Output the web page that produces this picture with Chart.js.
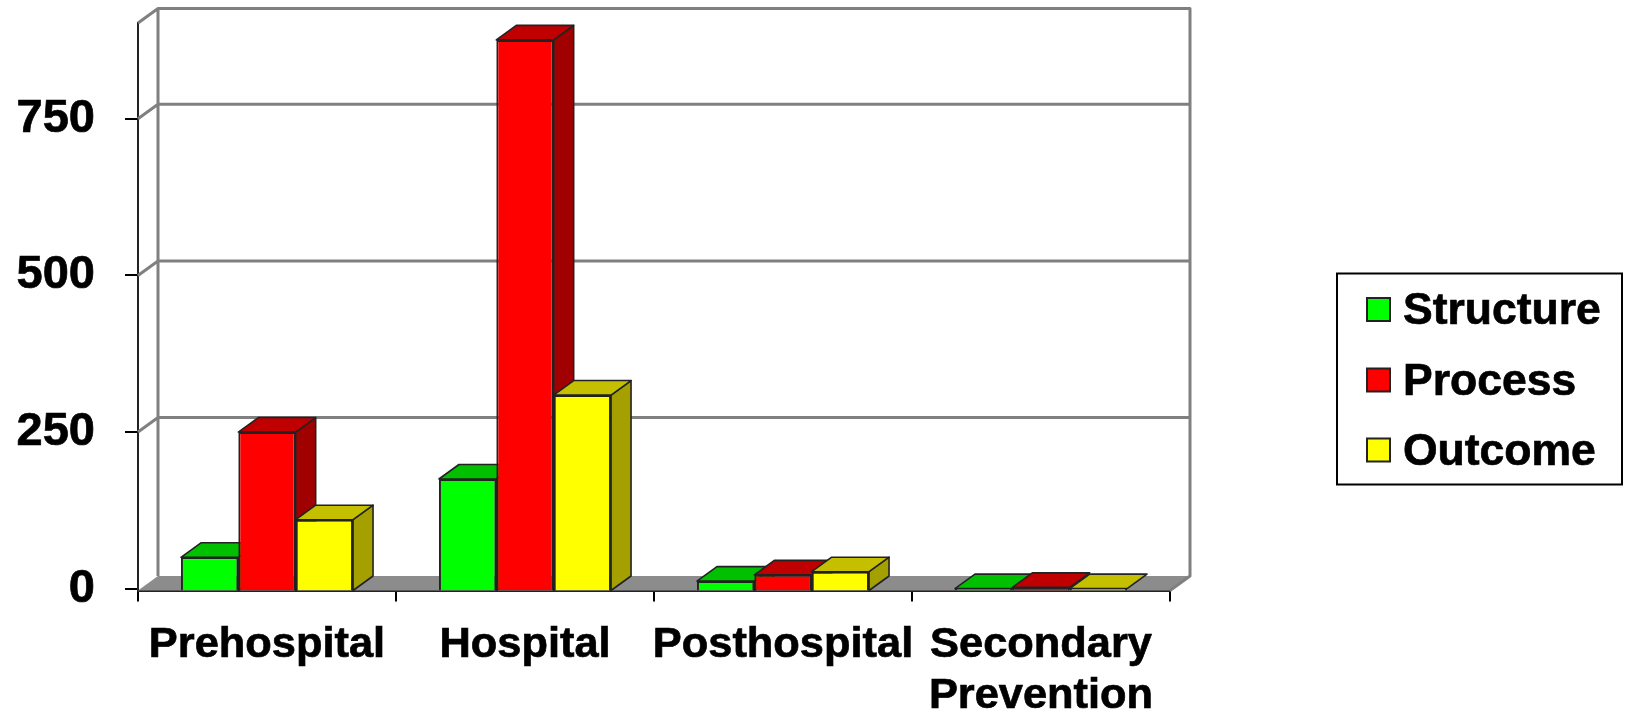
<!DOCTYPE html>
<html><head><meta charset="utf-8">
<style>html,body{margin:0;padding:0;background:#fff}canvas{display:block}</style>
<script src="https://cdn.jsdelivr.net/npm/chart.js@4"></script>
</head><body><canvas id="c" width="1627" height="711"></canvas>
<script>
const categories = ["Prehospital", "Hospital", "Posthospital", ["Secondary", "Prevention"]];
const structure = [50, 175, 12, 0];
const processV = [250, 876, 22, 2];
const outcome = [110, 309, 27, 0];
const seriesNames = ["Structure", "Process", "Outcome"];
const frontColors = ["#00ff00", "#ff0000", "#ffff00"];
const topColors = ["#00c000", "#c00000", "#c4c000"];
const sideColors = ["#00a000", "#a00000", "#a3a000"];
const tickStep = 250;
const axisMin = -3;
const axisMax = 903;
const DX = 20, DY = 14.5;
const FAMILY = '"Liberation Sans", Arial, sans-serif';
const FONT = 'bold 44.5px ' + FAMILY;

function poly(ctx, pts, fill, stroke, lw) {
  ctx.beginPath();
  pts.forEach((p, i) => i ? ctx.lineTo(p[0], p[1]) : ctx.moveTo(p[0], p[1]));
  ctx.closePath();
  if (fill) { ctx.fillStyle = fill; ctx.fill(); }
  if (stroke) { ctx.strokeStyle = stroke; ctx.lineWidth = lw; ctx.stroke(); }
}
const frame3d = {
  id: 'frame3d',
  beforeDatasetsDraw(chart) {
    const ctx = chart.ctx, a = chart.chartArea, y = chart.scales.y;
    ctx.save();
    const gray = '#808080';
    ctx.lineJoin = 'round';
    const y0 = a.bottom;
    poly(ctx, [[a.left, y0], [a.left + DX, y0 - DY], [a.right + DX, y0 - DY], [a.right, y0]], '#8c8c8c');
    ctx.strokeStyle = gray; ctx.lineWidth = 3;
    ctx.beginPath();
    ctx.moveTo(a.left + DX, y0 - DY); ctx.lineTo(a.left + DX, a.top - DY);
    ctx.lineTo(a.right + DX, a.top - DY); ctx.lineTo(a.right + DX, y0 - DY);
    ctx.lineTo(a.right, y0);
    ctx.moveTo(a.left, a.top); ctx.lineTo(a.left + DX, a.top - DY);
    y.ticks.forEach(t => {
      if (t.value === 0) return;
      const py = y.getPixelForValue(t.value);
      ctx.moveTo(a.left, py); ctx.lineTo(a.left + DX, py - DY); ctx.lineTo(a.right + DX, py - DY);
    });
    ctx.stroke();
    const n = chart.data.labels.length;
    for (let c = 0; c < n; c++) {
      chart.data.datasets.forEach((ds, i) => {
        const b = chart.getDatasetMeta(i).data[c];
        const l = b.x - b.width / 2, r = b.x + b.width / 2, t = b.y, bot = b.base;
        if (bot - t > 4) poly(ctx, [[r, t], [r + DX, t - DY], [r + DX, bot - DY], [r, bot]], sideColors[i], '#222', 1.6);
        poly(ctx, [[l, t], [l + DX, t - DY], [r + DX, t - DY], [r, t]], topColors[i], '#222', 1.6);
      });
    }
    ctx.restore();
  },
  afterDraw(chart) {
    const ctx = chart.ctx;
    ctx.save();
    ctx.strokeStyle = '#000'; ctx.lineWidth = 2;
    ctx.strokeRect(1337, 273.5, 285, 211);
    const swatchY = [309.5, 380, 450];
    const textY = [311.4, 382.4, 452.4];
    ctx.font = FONT; ctx.textBaseline = 'middle'; ctx.textAlign = 'left';
    seriesNames.forEach((s, i) => {
      ctx.fillStyle = frontColors[i]; ctx.fillRect(1367, swatchY[i] - 11.5, 23, 23);
      ctx.strokeStyle = '#222'; ctx.lineWidth = 2; ctx.strokeRect(1367, swatchY[i] - 11.5, 23, 23);
      ctx.fillStyle = '#000'; ctx.fillText(s, 1403, textY[i]);
      ctx.strokeStyle = '#000'; ctx.lineWidth = 0.7; ctx.strokeText(s, 1403, textY[i]);
    });
    ctx.restore();
  }
};
const ds = [structure, processV, outcome].map((d, i) => ({
  label: seriesNames[i], data: d, backgroundColor: frontColors[i],
  borderColor: '#222', borderWidth: 2, base: axisMin,
  categoryPercentage: 0.667, barPercentage: 1
}));
new Chart(document.getElementById('c'), {
  type: 'bar',
  data: { labels: categories, datasets: ds },
  plugins: [frame3d],
  options: {
    responsive: false, animation: false,
    layout: { padding: { top: 23, right: 457, left: 0, bottom: 0 } },
    plugins: { legend: { display: false }, title: { display: false }, tooltip: { enabled: false } },
    scales: {
      x: {
        grid: { drawOnChartArea: false, drawTicks: true, tickLength: 11, color: '#000', lineWidth: 2, offset: true },
        border: { display: true, color: '#222', width: 2 },
        ticks: { color: '#000', font: { family: FAMILY, size: 43.4, weight: 'bold', lineHeight: 1.17 },
                 textStrokeColor: '#000', textStrokeWidth: 0.7,
                 padding: 18.5, maxRotation: 0, autoSkip: false },
        afterFit(s) { s.height = 120.5; }
      },
      y: {
        min: axisMin, max: axisMax,
        grid: { drawOnChartArea: false, drawTicks: true, tickLength: 13, color: '#000', lineWidth: 2 },
        border: { display: true, color: '#222', width: 2 },
        ticks: { stepSize: tickStep, includeBounds: false, color: '#000', padding: 30,
                 textStrokeColor: '#000', textStrokeWidth: 0.7,
                 font: { family: FAMILY, size: 47, weight: 'bold' } },
        afterFit(s) { s.width = 138; s.paddingTop = 0; s.paddingBottom = 0; }
      }
    }
  }
});
</script></body></html>
